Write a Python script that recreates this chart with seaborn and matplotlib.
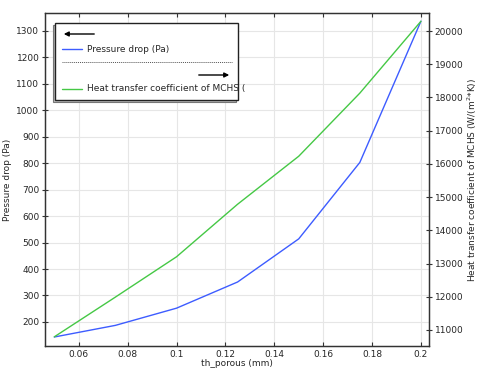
import matplotlib
matplotlib.use("Agg")
import matplotlib.pyplot as plt
import seaborn as sns
import pandas as pd
from matplotlib.patches import Rectangle

th_porous = [0.05, 0.075, 0.1, 0.125, 0.15, 0.175, 0.2]
pressure_drop = [143, 187, 252, 351, 514, 803, 1337]
heat_transfer = [10794, 11990, 13203, 14786, 16230, 18130, 20293]

x_ticks = [0.06, 0.08, 0.1, 0.12, 0.14, 0.16, 0.18, 0.2]
x_tick_labels = ["0.06", "0.08", "0.1", "0.12", "0.14", "0.16", "0.18", "0.2"]
left_ticks = [200, 300, 400, 500, 600, 700, 800, 900, 1000, 1100, 1200, 1300]
right_ticks = [11000, 12000, 13000, 14000, 15000, 16000, 17000, 18000, 19000, 20000]

df = pd.DataFrame({"th": th_porous, "dp": pressure_drop, "htc": heat_transfer})

sns.set_style("white")
plt.rcParams["font.family"] = ["DejaVu Sans"]
FS = 6.5
BLUE = "#3d5cff"
GREEN = "#45c845"
SPINE = "#333333"

fig = plt.figure(figsize=(4.84, 3.75), dpi=100)
ax = fig.add_axes([45 / 484, 29 / 375, (429 - 45) / 484, (346 - 13) / 375])
ax2 = ax.twinx()

sns.lineplot(data=df, x="th", y="dp", ax=ax, color=BLUE, linewidth=1.0)
sns.lineplot(data=df, x="th", y="htc", ax=ax2, color=GREEN, linewidth=1.0)

ax.set_xlim(0.0462, 0.2033)
ax.set_ylim(109, 1368)
ax2.set_ylim(10518, 20542)

ax.set_xticks(x_ticks)
ax.set_xticklabels(x_tick_labels)
ax.set_yticks(left_ticks)
ax2.set_yticks(right_ticks)

ax.grid(True, color="#e6e6e6", linewidth=0.8)
ax.set_axisbelow(True)
ax2.grid(False)

ax.set_xlabel("th_porous (mm)", fontsize=FS, labelpad=0)
ax.set_ylabel("Pressure drop (Pa)", fontsize=FS, labelpad=3)
ax2.set_ylabel("Heat transfer coefficient of MCHS (W/(m$^2$*K))", fontsize=FS, labelpad=2)

for a in (ax, ax2):
    for s in a.spines.values():
        s.set_color(SPINE)
        s.set_linewidth(0.9)
        s.set_visible(True)

ax.tick_params(axis="x", direction="in", length=3, width=0.8, color=SPINE,
               labelsize=FS, pad=3, top=True, bottom=True)
ax.tick_params(axis="y", direction="inout", length=4, width=0.8, color=SPINE,
               labelsize=FS, pad=2, left=True)
ax2.tick_params(axis="y", direction="inout", length=4, width=0.8, color=SPINE,
                labelsize=FS, pad=2, right=True)

# Legend box (drawn in figure pixel coordinates)
W, H = 484, 375
def fx(px):
    return px / W
def fy(py):
    return 1 - py / H

shadow = Rectangle((fx(53), fy(102)), fx(238) - fx(55), fy(23) - fy(100),
                   transform=fig.transFigure, facecolor="#bbbbbb", edgecolor="#777777",
                   linewidth=0.8, zorder=10)
box = Rectangle((fx(55), fy(100)), fx(238) - fx(55), fy(23) - fy(100),
                transform=fig.transFigure, facecolor="white", edgecolor="#222222",
                linewidth=1.0, zorder=11)
fig.patches.extend([shadow, box])

fig.add_artist(plt.Line2D([fx(62), fx(82)], [fy(49), fy(49)], color=BLUE, lw=1.0, zorder=12))
fig.text(fx(87), fy(49), "Pressure drop (Pa)", fontsize=FS, va="center", ha="left", zorder=12)
fig.add_artist(plt.Line2D([fx(62), fx(232)], [fy(62), fy(62)], color="#555555", lw=0.7,
                          linestyle=(0, (1, 1)), zorder=12))
fig.add_artist(plt.Line2D([fx(62), fx(82)], [fy(89), fy(89)], color=GREEN, lw=1.0, zorder=12))
fig.text(fx(87), fy(89), "Heat transfer coefficient of MCHS (", fontsize=FS, va="center",
         ha="left", zorder=12)
fig.add_artist(matplotlib.patches.FancyArrowPatch((fx(97), fy(34)), (fx(61), fy(34)),
               transform=fig.transFigure, arrowstyle="-|>", mutation_scale=7,
               color="black", lw=1.0, zorder=12))
fig.add_artist(matplotlib.patches.FancyArrowPatch((fx(196), fy(75)), (fx(232), fy(75)),
               transform=fig.transFigure, arrowstyle="-|>", mutation_scale=7,
               color="black", lw=1.0, zorder=12))

fig.savefig("out.png", dpi=100)
